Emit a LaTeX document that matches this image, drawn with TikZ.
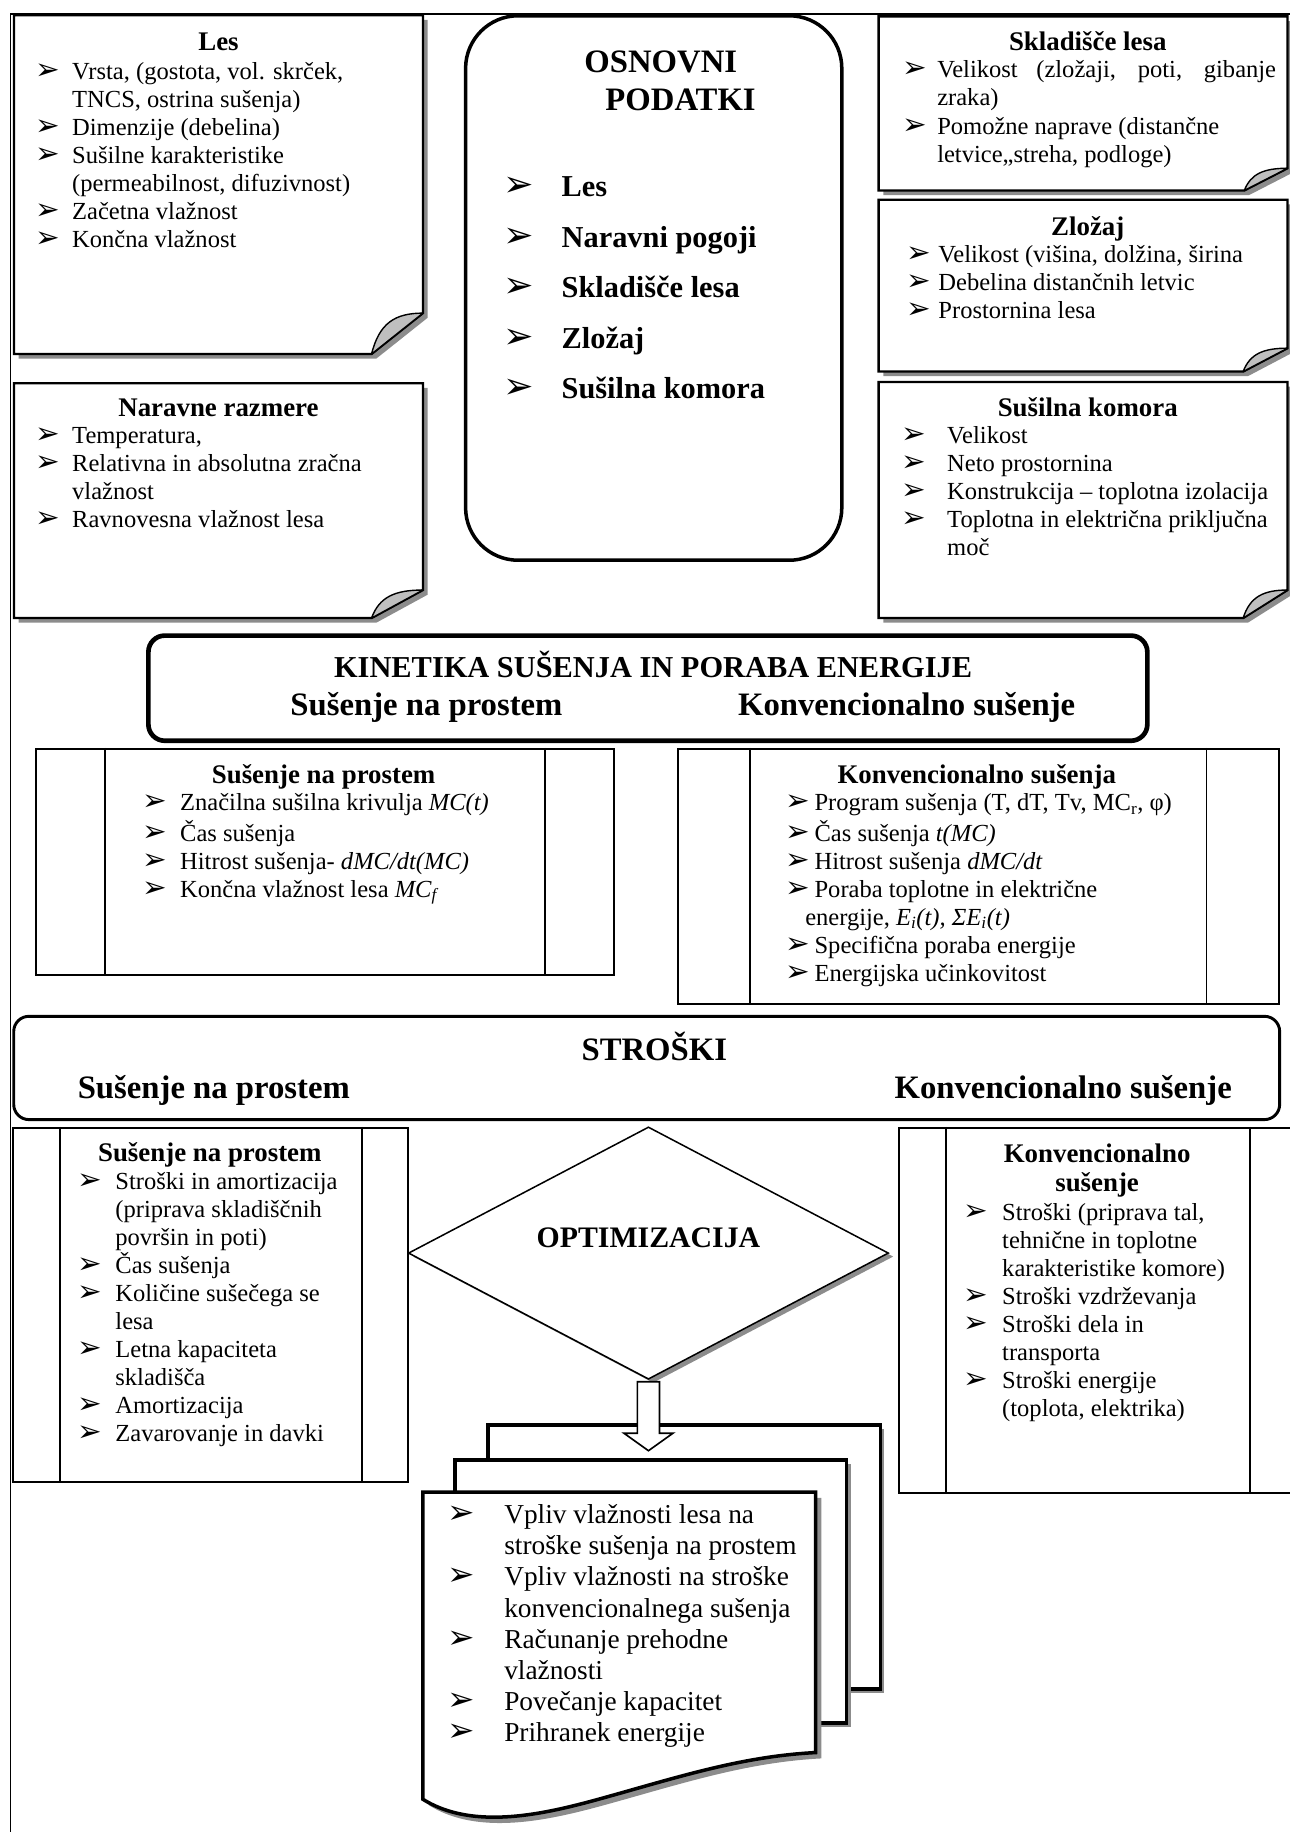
\documentclass[tikz,border=0pt]{standalone}
\usepackage{fontspec}
\setmainfont{Liberation Serif}
\newfontfamily\arrfont[Scale=1.2]{DejaVu Sans}
\usetikzlibrary{shapes.geometric,calc}

\definecolor{shadowgray}{gray}{0.55}
\definecolor{foldgray}{gray}{0.75}

\newcommand{\bul}[1]{\makebox[#1][l]{\mdseries\arrfont ➢}}
\newcommand{\gap}[1]{\hspace*{#1}}
% note with a curled corner: x1, y1, x2, y2, fold width, fold height
\newcommand{\curlbox}[6]{%
  \fill[shadowgray] (#1+4,#2+4) -- (#3+4,#2+4) -- (#3+4,#4-#6+4) -- (#3-#5+4,#4+4) -- (#1+4,#4+4) -- cycle;
  \filldraw[notebox] (#1,#2) -- (#3,#2) -- (#3,#4-#6) -- (#3-#5,#4) -- (#1,#4) -- cycle;
  \filldraw[fold] (#3-#5,#4) .. controls (#3-#5+0.15*#5,#4-0.75*#6) and (#3-0.55*#5,#4-#6) .. (#3,#4-#6) -- cycle;}
% the two inner bars of a process box
\newcommand{\procbars}[3]{%
  \draw[procline] ($(#1.north west)+(#2,0)$) -- ($(#1.south west)+(#2,0)$);
  \draw[procline] ($(#1.north east)+(-#3,0)$) -- ($(#1.south east)+(-#3,0)$);}

\begin{document}
\begin{tikzpicture}[x=1pt, y=-1pt,
  every node/.style={inner sep=0pt},
  frameline/.style={line width=1.6pt},
  notebox/.style={draw=black, fill=white, line width=2pt},
  fold/.style={draw=black, fill=foldgray, line width=1.2pt, line join=round},
  roundbox/.style={draw, fill=white, rectangle, rounded corners=#1},
  procbox/.style={draw, fill=white, line width=1.6pt},
  procline/.style={line width=1.6pt},
  page/.style={draw, fill=white, line width=3pt},
  blockarrow/.style={draw, fill=white, line width=1.4pt},
  boxtitle/.style={font=\fontsize{23}{25}\selectfont\bfseries},
  bigtitle/.style={font=\fontsize{28}{32}\selectfont\bfseries},
  itemlist/.style={align=left, anchor=north west, font=\fontsize{21}{24}\selectfont}]

\useasboundingbox (0,0) rectangle (1104,1568);
\clip (0,0) rectangle (1104,1568);

\draw[frameline] (9,1570) -- (9,12) -- (1106,12);

% basic data
\curlbox{12}{13}{362}{303}{44}{35}
\curlbox{12}{328}{362}{529}{44}{24}
\curlbox{752}{14}{1102}{163}{37}{19}
\curlbox{752}{171}{1102}{318}{38}{20}
\curlbox{752}{327}{1102}{529}{38}{24}

\node[boxtitle, anchor=base] (lesT) at (187,43.5) {Les};
\node[itemlist] (lesL) at (30,50.7) {\strut\bul{31.6pt}Vrsta, (gostota, vol. skrček,\\
  \gap{31.6pt}TNCS, ostrina sušenja)\\
  \bul{31.6pt}Dimenzije (debelina)\\
  \bul{31.6pt}Sušilne karakteristike\\
  \gap{31.6pt}(permeabilnost, difuzivnost)\\
  \bul{31.6pt}Začetna vlažnost\\
  \bul{31.6pt}Končna vlažnost};

\node[boxtitle, anchor=base] (narT) at (187,356.5) {Naravne razmere};
\node[itemlist] (narL) at (30,362.7) {\strut\bul{31.6pt}Temperatura,\\
  \bul{31.6pt}Relativna in absolutna zračna\\
  \gap{31.6pt}vlažnost\\
  \bul{31.6pt}Ravnovesna vlažnost lesa};

\node[boxtitle, anchor=base] (sklT) at (931,43.5) {Skladišče lesa};
\node[itemlist] (sklL) at (772,49.7) {\strut\bul{30pt}\makebox[290pt][s]{Velikost (zložaji, poti, gibanje}\\
  \gap{30pt}zraka)\\
  \bul{30pt}Pomožne naprave (distančne\\
  \gap{30pt}letvice,,streha, podloge)};

\node[boxtitle, anchor=base] (zloT) at (931,201.5) {Zložaj};
\node[itemlist] (zloL) at (775.5,207.7) {\strut\bul{27.5pt}Velikost (višina, dolžina, širina\\
  \bul{27.5pt}Debelina distančnih letvic\\
  \bul{27.5pt}Prostornina lesa};

\node[boxtitle, anchor=base] (komT) at (931,356.5) {Sušilna komora};
\node[itemlist] (komL) at (771,362.7) {\strut\bul{39.5pt}Velikost\\
  \bul{39.5pt}Neto prostornina\\
  \bul{39.5pt}Konstrukcija – toplotna izolacija\\
  \bul{39.5pt}Toplotna in električna priključna\\
  \gap{39.5pt}moč};

\node[roundbox=45, line width=3pt, minimum width=322, minimum height=466, anchor=north west] (osn) at (397,12) {};
\node[bigtitle, align=left, anchor=north west] (osnT) at (500,39.6) {\strut OSNOVNI\\ \gap{18pt}PODATKI};
\node[itemlist, font=\fontsize{26}{43.3}\selectfont\bfseries] (osnL) at (431,137.7) {\strut\bul{49.5pt}Les\\
  \bul{49.5pt}Naravni pogoji\\
  \bul{49.5pt}Skladišče lesa\\
  \bul{49.5pt}Zložaj\\
  \bul{49.5pt}Sušilna komora};

% kinetics
\node[roundbox=14, line width=4pt, minimum width=855, minimum height=90, anchor=north west] (kin) at (125,542) {};
\node[font=\fontsize{26}{30}\selectfont\bfseries, anchor=base] (kinT) at (559,580) {KINETIKA SUŠENJA IN PORABA ENERGIJE};
\node[bigtitle, anchor=base] (kinS1) at (365,612) {Sušenje na prostem};
\node[bigtitle, anchor=base] (kinS2) at (776,612) {Konvencionalno sušenje};

\node[procbox, minimum width=495, minimum height=194, anchor=north west] (kinL) at (30,640) {};
\procbars{kinL}{60}{60}
\node[procbox, minimum width=514.5, minimum height=218.6, anchor=north west] (kinR) at (579.5,640) {};
\procbars{kinR}{62.5}{63}

\node[boxtitle, anchor=base] (kinLT) at (277,670.5) {Sušenje na prostem};
\node[itemlist] (kinLL) at (121.5,676.7) {\strut\bul{32.5pt}Značilna sušilna krivulja \textit{MC(t)}\\
  \bul{32.5pt}Čas sušenja\\
  \bul{32.5pt}Hitrost sušenja- \textit{dMC/dt(MC)}\\
  \bul{32.5pt}Končna vlažnost lesa \textit{MC\textsubscript{f}}};

\node[boxtitle, anchor=base] (kinRT) at (836,670.5) {Konvencionalno sušenja};
\node[itemlist] (kinRL) at (671.8,676.7) {\strut\bul{25.2pt}Program sušenja (T, dT, Tv, MC\textsubscript{r}, φ)\\
  \bul{25.2pt}Čas sušenja \textit{t(MC)}\\
  \bul{25.2pt}Hitrost sušenja \textit{dMC/dt}\\
  \bul{25.2pt}Poraba toplotne in električne\\
  \gap{17.2pt}energije, \textit{E\textsubscript{i}(t), ΣE\textsubscript{i}(t)}\\
  \bul{25.2pt}Specifična poraba energije\\
  \bul{25.2pt}Energijska učinkovitost};

% costs
\node[roundbox=13, line width=2.5pt, minimum width=1083.5, minimum height=88.4, anchor=north west] (str) at (10.5,868.6) {};
\node[bigtitle, anchor=base] (strT) at (560,908) {STROŠKI};
\node[bigtitle, anchor=base] (strS1) at (183,940) {Sušenje na prostem};
\node[bigtitle, anchor=base] (strS2) at (910,940) {Konvencionalno sušenje};

\node[procbox, minimum width=338, minimum height=303, anchor=north west] (strL) at (10.5,964.5) {};
\procbars{strL}{41}{40}
\node[procbox, minimum width=340, minimum height=312.5, anchor=north west] (strR) at (769,964.5) {};
\procbars{strR}{41}{41}

\node[boxtitle, anchor=base] (strLT) at (179.6,994.5) {Sušenje na prostem};
\node[itemlist] (strLL) at (66,1000.7) {\strut\bul{32.6pt}Stroški in amortizacija\\
  \gap{32.6pt}(priprava skladiščnih\\
  \gap{32.6pt}površin in poti)\\
  \bul{32.6pt}Čas sušenja\\
  \bul{32.6pt}Količine sušečega se\\
  \gap{32.6pt}lesa\\
  \bul{32.6pt}Letna kapaciteta\\
  \gap{32.6pt}skladišča\\
  \bul{32.6pt}Amortizacija\\
  \bul{32.6pt}Zavarovanje in davki};

\node[boxtitle, align=center, anchor=north] (strRT) at (939,977) {\strut Konvencionalno\\sušenje};
\node[itemlist] (strRL) at (824.8,1027.7) {\strut\bul{32.8pt}Stroški (priprava tal,\\
  \gap{32.8pt}tehnične in toplotne\\
  \gap{32.8pt}karakteristike komore)\\
  \bul{32.8pt}Stroški vzdrževanja\\
  \bul{32.8pt}Stroški dela in\\
  \gap{32.8pt}transporta\\
  \bul{32.8pt}Stroški energije\\
  \gap{32.8pt}(toplota, elektrika)};

% optimisation
\node[diamond, fill=shadowgray, minimum width=411, minimum height=216] (optsh) at (559,1075.5) {};
\node[diamond, draw, fill=white, line width=1.3pt, minimum width=411, minimum height=216] (opt) at (555,1072.5) {};
\node[font=\fontsize{25.5}{30}\selectfont\bfseries, anchor=base] (optT) at (555,1068) {OPTIMIZACIJA};

% results (stacked documents)
\fill[shadowgray] (421,1223) rectangle (757,1449);
\node[page, minimum width=336, minimum height=226, anchor=north west] (pg3) at (416,1218) {};
\fill[shadowgray] (393,1253) rectangle (728,1478);
\node[page, minimum width=335, minimum height=225, anchor=north west] (pg2) at (388,1248) {};
\fill[shadowgray] (367,1282) -- (703,1282) -- (703,1505) .. controls (645,1508) and (595,1523) .. (535,1540) .. controls (485,1554) and (415,1575) .. (367,1545) -- cycle;
\draw[page] (362,1277) -- (698,1277) -- (698,1500) .. controls (640,1503) and (590,1518) .. (530,1535) .. controls (480,1549) and (410,1570) .. (362,1540) -- cycle;

\coordinate (arrtip) at ($(opt.south)+(0,60.5)$);
\draw[blockarrow] ($(opt.south)+(-9.5,1.5)$) -- ($(arrtip)+(-9.5,-15)$) -- ($(arrtip)+(-21,-15)$) -- (arrtip)
  -- ($(arrtip)+(21,-15)$) -- ($(arrtip)+(9.5,-15)$) -- ($(opt.south)+(9.5,1.5)$) -- cycle;

\node[itemlist, font=\fontsize{23.4}{26.6}\selectfont] (docL) at (382.6,1285.4) {\strut\bul{48.8pt}Vpliv vlažnosti lesa na\\
  \gap{48.8pt}stroške sušenja na prostem\\
  \bul{48.8pt}Vpliv vlažnosti na stroške\\
  \gap{48.8pt}konvencionalnega sušenja\\
  \bul{48.8pt}Računanje prehodne\\
  \gap{48.8pt}vlažnosti\\
  \bul{48.8pt}Povečanje kapacitet\\
  \bul{48.8pt}Prihranek energije};

\end{tikzpicture}
\end{document}
